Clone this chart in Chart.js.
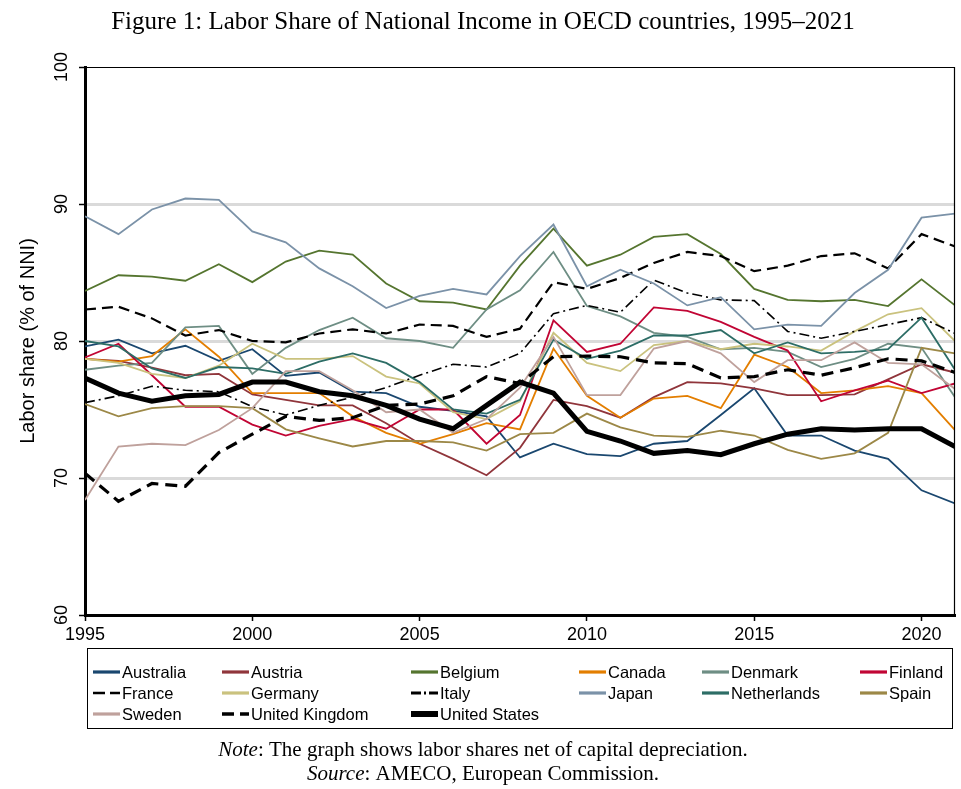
<!DOCTYPE html>
<html><head><meta charset="utf-8">
<script src="https://cdn.jsdelivr.net/npm/chart.js@4.4.1/dist/chart.umd.min.js"></script>
<style>html,body{margin:0;padding:0;background:#fff;}#wrap{position:relative;width:961px;height:789px;}canvas{display:block;}</style>
</head><body><div id="wrap"><canvas id="c" width="961" height="789"></canvas></div>
<script>
const years = [1995,1996,1997,1998,1999,2000,2001,2002,2003,2004,2005,2006,2007,2008,2009,2010,2011,2012,2013,2014,2015,2016,2017,2018,2019,2020,2021];
const australia = [79.6,80.1,79.1,79.65,78.55,79.4,77.45,77.7,76.3,76.2,75.2,74.9,74.5,71.5,72.5,71.75,71.6,72.5,72.7,74.6,76.55,73.1,73.1,72.0,71.4,69.1,68.15];
const austria = [78.7,78.55,78.05,77.5,77.6,76.1,75.7,75.3,75.3,74.0,72.5,71.4,70.2,72.2,75.7,75.25,74.4,75.9,77.0,76.9,76.55,76.05,76.05,76.1,77.2,78.3,77.7];
const belgium = [83.65,84.8,84.7,84.4,85.6,84.3,85.8,86.6,86.3,84.2,82.9,82.8,82.3,85.5,88.2,85.5,86.3,87.6,87.8,86.35,83.8,83.0,82.9,83.0,82.55,84.5,82.6];
const canada = [78.7,78.5,78.9,80.85,78.85,76.2,76.2,76.2,74.5,73.3,72.5,73.2,74.0,73.55,79.45,76.0,74.4,75.8,76.0,75.1,79.0,78.1,76.2,76.4,76.7,76.2,73.5];
const denmark = [77.9,78.2,78.4,81.0,81.1,77.6,79.5,80.8,81.7,80.2,80.0,79.5,82.3,83.7,86.5,82.55,81.8,80.6,80.3,79.4,79.5,79.2,78.1,78.7,79.8,79.5,75.9];
const finland = [78.8,79.8,77.5,75.2,75.2,73.9,73.1,73.8,74.3,73.6,75.0,75.0,72.5,74.6,81.5,79.2,79.8,82.45,82.2,81.4,80.3,79.3,75.6,76.4,77.1,76.2,76.9];
const france = [82.3,82.5,81.65,80.4,80.8,80.0,79.9,80.55,80.85,80.55,81.2,81.1,80.3,80.9,84.3,83.8,84.6,85.7,86.5,86.2,85.1,85.5,86.2,86.4,85.3,87.8,86.9];
const germany = [78.7,78.4,77.6,77.3,78.2,79.8,78.7,78.7,78.9,77.4,76.9,74.8,74.3,75.6,80.6,78.4,77.8,79.7,80.0,79.4,79.8,79.6,79.3,80.7,81.95,82.4,80.0];
const italy = [75.5,76.0,76.7,76.4,76.3,75.2,74.6,75.3,75.9,76.6,77.5,78.3,78.1,79.1,82.0,82.6,82.1,84.45,83.5,83.0,82.95,80.7,80.2,80.7,81.2,81.7,80.55];
const japan = [89.1,87.8,89.6,90.4,90.3,88.0,87.2,85.3,84.0,82.4,83.3,83.8,83.4,86.2,88.5,84.0,85.2,84.2,82.6,83.2,80.85,81.2,81.1,83.5,85.2,89.0,89.3];
const netherlands = [80.0,79.6,78.0,77.3,78.1,78.0,77.6,78.5,79.1,78.4,77.0,75.0,74.7,75.7,80.1,78.7,79.3,80.4,80.4,80.8,79.1,79.9,79.1,79.2,79.4,81.7,77.9];
const spain = [75.4,74.5,75.1,75.25,75.25,75.1,73.55,72.9,72.3,72.7,72.7,72.6,72.0,73.2,73.3,74.7,73.7,73.1,73.0,73.45,73.1,72.05,71.4,71.8,73.3,79.5,79.1];
const sweden = [68.4,72.3,72.5,72.4,73.5,75.1,77.8,77.8,76.4,74.8,75.0,73.3,74.3,76.6,80.3,76.05,76.05,79.45,80.0,79.1,77.0,78.6,78.6,79.9,78.4,78.3,76.5];
const unitedKingdom = [70.35,68.3,69.6,69.4,71.85,73.2,74.5,74.2,74.4,75.3,75.4,76.0,77.4,76.9,78.85,78.9,78.85,78.4,78.35,77.3,77.4,77.9,77.5,78.05,78.7,78.55,77.7];
const unitedStates = [77.3,76.2,75.6,76.0,76.1,77.0,77.0,76.3,76.0,75.3,74.3,73.6,75.3,77.0,76.2,73.4,72.7,71.8,72.0,71.7,72.5,73.2,73.6,73.5,73.6,73.6,72.3];

const xTicks = [1995,2000,2005,2010,2015,2020];
const yTicks = [60,70,80,90,100];
const countryNames = ['Australia','Austria','Belgium','Canada','Denmark','Finland','France','Germany','Italy','Japan','Netherlands','Spain','Sweden','United Kingdom','United States'];
const seriesValues = [australia,austria,belgium,canada,denmark,finland,france,germany,italy,japan,netherlands,spain,sweden,unitedKingdom,unitedStates];

const styles = [
  {c:'#1a476f', w:1.8, d:[]},
  {c:'#90353b', w:1.8, d:[]},
  {c:'#55752f', w:1.8, d:[]},
  {c:'#e37e00', w:1.8, d:[]},
  {c:'#6e8e84', w:1.8, d:[]},
  {c:'#c10534', w:1.8, d:[]},
  {c:'#000000', w:2.2, d:[11,6]},
  {c:'#cac27e', w:1.8, d:[]},
  {c:'#000000', w:1.6, d:[10,4,2,4]},
  {c:'#7b92a8', w:1.8, d:[]},
  {c:'#2d6d66', w:1.8, d:[]},
  {c:'#9c8847', w:1.8, d:[]},
  {c:'#bfa19c', w:1.8, d:[]},
  {c:'#000000', w:3.2, d:[12,7]},
  {c:'#000000', w:5, d:[]}
];

const datasets = countryNames.map((n,i)=>({
  label:n,
  data: years.map((y,k)=>({x:y, y:seriesValues[i][k]})),
  borderColor: styles[i].c,
  borderWidth: styles[i].w,
  borderDash: styles[i].d,
  pointRadius:0,
  fill:false,
  tension:0,
  order: countryNames.length - i
}));

const SANS = '"Liberation Sans", Arial, sans-serif';
const SERIF = '"Liberation Serif", "Times New Roman", serif';

const legendCols = [122,251,440,608,731,889];
const legendRows = [672,693,714];

const decor = {
  id:'decor',
  afterDraw(chart){
    const ctx = chart.ctx, a = chart.chartArea, ys = chart.scales.y;
    ctx.save();
    ctx.strokeStyle='#000'; ctx.lineWidth=1.2;
    ctx.beginPath(); ctx.moveTo(a.left, a.top+0.5); ctx.lineTo(a.right-0.5, a.top+0.5); ctx.lineTo(a.right-0.5, a.bottom); ctx.stroke();
    ctx.fillStyle='#000'; ctx.textAlign='center'; ctx.textBaseline='middle';
    ctx.font = '25px '+SERIF;
    ctx.fillText('Figure 1: Labor Share of National Income in OECD countries, 1995\u20132021', 483, 22);
    ctx.font = '18px '+SANS;
    yTicks.forEach(v=>{
      const py = ys.getPixelForValue(v);
      ctx.save(); ctx.translate(62, py); ctx.rotate(-Math.PI/2);
      ctx.textAlign='center'; ctx.textBaseline='middle';
      ctx.fillText(String(v),0,0); ctx.restore();
    });
    ctx.save(); ctx.translate(28, (a.top+a.bottom)/2); ctx.rotate(-Math.PI/2);
    ctx.font='20px '+SANS; ctx.textAlign='center'; ctx.textBaseline='middle';
    ctx.fillText('Labor share (% of NNI)',0,0); ctx.restore();
    ctx.strokeStyle='#000'; ctx.lineWidth=1;
    ctx.strokeRect(87.5, 648.5, 865, 80);
    ctx.font='16.5px '+SANS; ctx.textAlign='left'; ctx.textBaseline='middle';
    chart.data.datasets.forEach((ds,i)=>{
      const col = i%6, row = Math.floor(i/6);
      const tx = legendCols[col], ty = legendRows[row];
      ctx.save();
      ctx.strokeStyle = ds.borderColor;
      const w = ds.borderWidth;
      ctx.lineWidth = i===14 ? 6 : (i===13 ? 3.5 : (w<2 ? 3.2 : 2.5));
      ctx.setLineDash(i===6 ? [12,5] : i===13 ? [12,6] : i===8 ? [10,3,2,3] : []);
      ctx.beginPath(); ctx.moveTo(tx-29, ty); ctx.lineTo(tx-2, ty); ctx.stroke();
      ctx.restore();
      ctx.fillStyle='#000';
      ctx.fillText(ds.label, tx, ty+1);
    });
    const F = 21;
    const n1a='Note', n1b=': The graph shows labor shares net of capital depreciation.';
    ctx.font='italic '+F+'px '+SERIF; const wa=ctx.measureText(n1a).width;
    ctx.font=F+'px '+SERIF; const wb=ctx.measureText(n1b).width;
    let sx = 483 - (wa+wb)/2;
    ctx.textAlign='left';
    ctx.font='italic '+F+'px '+SERIF; ctx.fillText(n1a, sx, 750);
    ctx.font=F+'px '+SERIF; ctx.fillText(n1b, sx+wa, 750);
    const s1a='Source', s1b=': AMECO, European Commission.';
    ctx.font='italic '+F+'px '+SERIF; const wc=ctx.measureText(s1a).width;
    ctx.font=F+'px '+SERIF; const wd=ctx.measureText(s1b).width;
    sx = 483 - (wc+wd)/2;
    ctx.font='italic '+F+'px '+SERIF; ctx.fillText(s1a, sx, 774);
    ctx.font=F+'px '+SERIF; ctx.fillText(s1b, sx+wc, 774);
    ctx.restore();
  }
};

new Chart(document.getElementById('c'), {
  type:'line',
  data:{datasets},
  options:{
    responsive:false, animation:false, devicePixelRatio:1,
    layout:{padding:{top:67,right:6,left:0,bottom:0}},
    plugins:{legend:{display:false}, tooltip:{enabled:false}, title:{display:false}},
    scales:{
      x:{type:'linear', min:1995, max:2021,
        afterBuildTicks: s=>{ s.ticks = xTicks.map(v=>({value:v})); },
        afterFit: s=>{ s.height = 174; },
        ticks:{callback:v=>String(v), color:'#000', font:{family:SANS, size:18}, padding:3, maxRotation:0},
        grid:{drawOnChartArea:false, drawTicks:true, tickLength:6, tickColor:'#000', tickWidth:1.5},
        border:{display:true, color:'#000', width:3}
      },
      y:{type:'linear', min:60, max:100,
        afterBuildTicks: s=>{ s.ticks = yTicks.map(v=>({value:v})); },
        afterFit: s=>{ s.width = 85; },
        ticks:{display:false},
        grid:{drawOnChartArea:true, color:c=> (c.tick && [70,80,90].includes(c.tick.value)) ? '#dadada' : 'rgba(0,0,0,0)', lineWidth:3, drawTicks:true, tickLength:6, tickColor:'#000', tickWidth:1.5},
        border:{display:true, color:'#000', width:3}
      }
    }
  },
  plugins:[decor]
});
</script></body></html>
